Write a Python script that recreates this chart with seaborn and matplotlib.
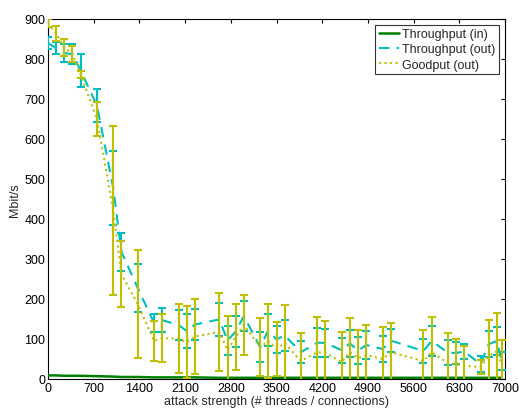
import numpy as np
import pandas as pd
import matplotlib
matplotlib.use("Agg")
import matplotlib.pyplot as plt
import seaborn as sns

# ---- data ----
attack = [0, 125, 250, 375, 500, 750, 1000, 1125, 1375, 1625, 1750, 2000, 2125, 2250,
          2625, 2750, 2875, 3000, 3250, 3375, 3500, 3625, 3875, 4125, 4250, 4500, 4625,
          4750, 4875, 5125, 5250, 5750, 5875, 6125, 6250, 6375, 6625, 6750, 6875, 6950]
thr_in = [9, 9, 8, 8, 8, 7, 6, 5, 5, 4, 4, 4, 4, 4, 3, 3, 3, 3, 3, 3, 3, 3, 3, 3, 3,
          3, 3, 3, 3, 3, 3, 3, 3, 3, 3, 3, 3, 3, 3, 3]
thr_out = [840, 827, 815, 812, 771, 684, 477, 318, 227, 140, 147, 135, 120, 136, 149, 96,
           119, 157, 80, 122, 99, 109, 67, 91, 90, 72, 89, 71, 85, 75, 96, 70, 95, 66, 65,
           69, 37, 87, 95, 45]
thr_out_err = [15, 15, 22, 25, 41, 42, 92, 47, 60, 22, 30, 37, 42, 39, 41, 36, 39, 37, 37,
               40, 34, 39, 27, 36, 35, 31, 34, 34, 35, 32, 29, 30, 37, 31, 27, 19, 20, 32,
               35, 22]
goodput = [890, 864, 829, 812, 761, 650, 421, 262, 187, 95, 102, 101, 92, 106, 118, 72,
           105, 135, 80, 95, 75, 90, 45, 67, 65, 42, 67, 52, 60, 50, 67, 45, 67, 40, 37,
           33, 30, 57, 70, 37]
goodput_err = [10, 19, 21, 20, 9, 42, 211, 83, 135, 50, 60, 86, 90, 94, 98, 86, 82, 75, 73,
               92, 67, 95, 70, 88, 80, 75, 85, 70, 75, 80, 73, 77, 88, 75, 63, 49, 18, 90,
               95, 60]
x_ticks = [0, 700, 1400, 2100, 2800, 3500, 4200, 4900, 5600, 6300, 7000]
y_ticks = [0, 100, 200, 300, 400, 500, 600, 700, 800, 900]

labels = ["Throughput (in)", "Throughput (out)", "Goodput (out)"]
colors = ["#008000", "#00BFBF", "#BFBF00"]

df = pd.DataFrame({"attack": attack, "in": thr_in, "out": thr_out, "good": goodput})

sns.set_theme(style="white")
plt.rcParams['font.family'] = ['Liberation Sans', 'DejaVu Sans']

fig = plt.figure(figsize=(5.19, 4.10), dpi=100)
ax = fig.add_axes([48 / 519, 30 / 410, 457 / 519, 360 / 410])

# throughput in
sns.lineplot(data=df, x="attack", y="in", ax=ax, color=colors[0], lw=1.8,
             label=labels[0], zorder=3)
# throughput out
ax.errorbar(attack, thr_out, yerr=thr_out_err, fmt="none", ecolor=colors[1],
            elinewidth=1.5, capsize=2.8, capthick=1.5, zorder=4)
sns.lineplot(data=df, x="attack", y="out", ax=ax, color=colors[1], lw=1.5,
             label=labels[1], zorder=4)
ax.lines[-1].set_dashes([5, 3.5])
# goodput
ax.errorbar(attack, goodput, yerr=goodput_err, fmt="none", ecolor=colors[2],
            elinewidth=1.5, capsize=2.8, capthick=1.5, zorder=5)
sns.lineplot(data=df, x="attack", y="good", ax=ax, color=colors[2], lw=1.5,
             label=labels[2], zorder=5)
ax.lines[-1].set_linestyle(":")

ax.set_xlim(0, 7000)
ax.set_ylim(0, 900)
ax.set_xticks(x_ticks)
ax.set_yticks(y_ticks)
ax.set_xticklabels([str(v) for v in x_ticks])
ax.set_yticklabels([str(v) for v in y_ticks])
ax.tick_params(direction="in", top=True, right=True, length=3, width=0.8,
               labelsize=9, colors="black", pad=2)
for s in ax.spines.values():
    s.set_visible(True)
    s.set_color("black")
    s.set_linewidth(0.8)
ax.set_xlabel("attack strength (# threads / connections)", fontsize=9, labelpad=1)
ax.set_ylabel("Mbit/s", fontsize=9, labelpad=2)

leg = ax.legend(loc="upper right", fontsize=9, frameon=True, fancybox=False,
                edgecolor="black", handlelength=1.6, handletextpad=0.3,
                borderpad=0.3, labelspacing=0.25, borderaxespad=0.45)
leg.get_frame().set_linewidth(0.8)

fig.savefig("out.png", dpi=100)
